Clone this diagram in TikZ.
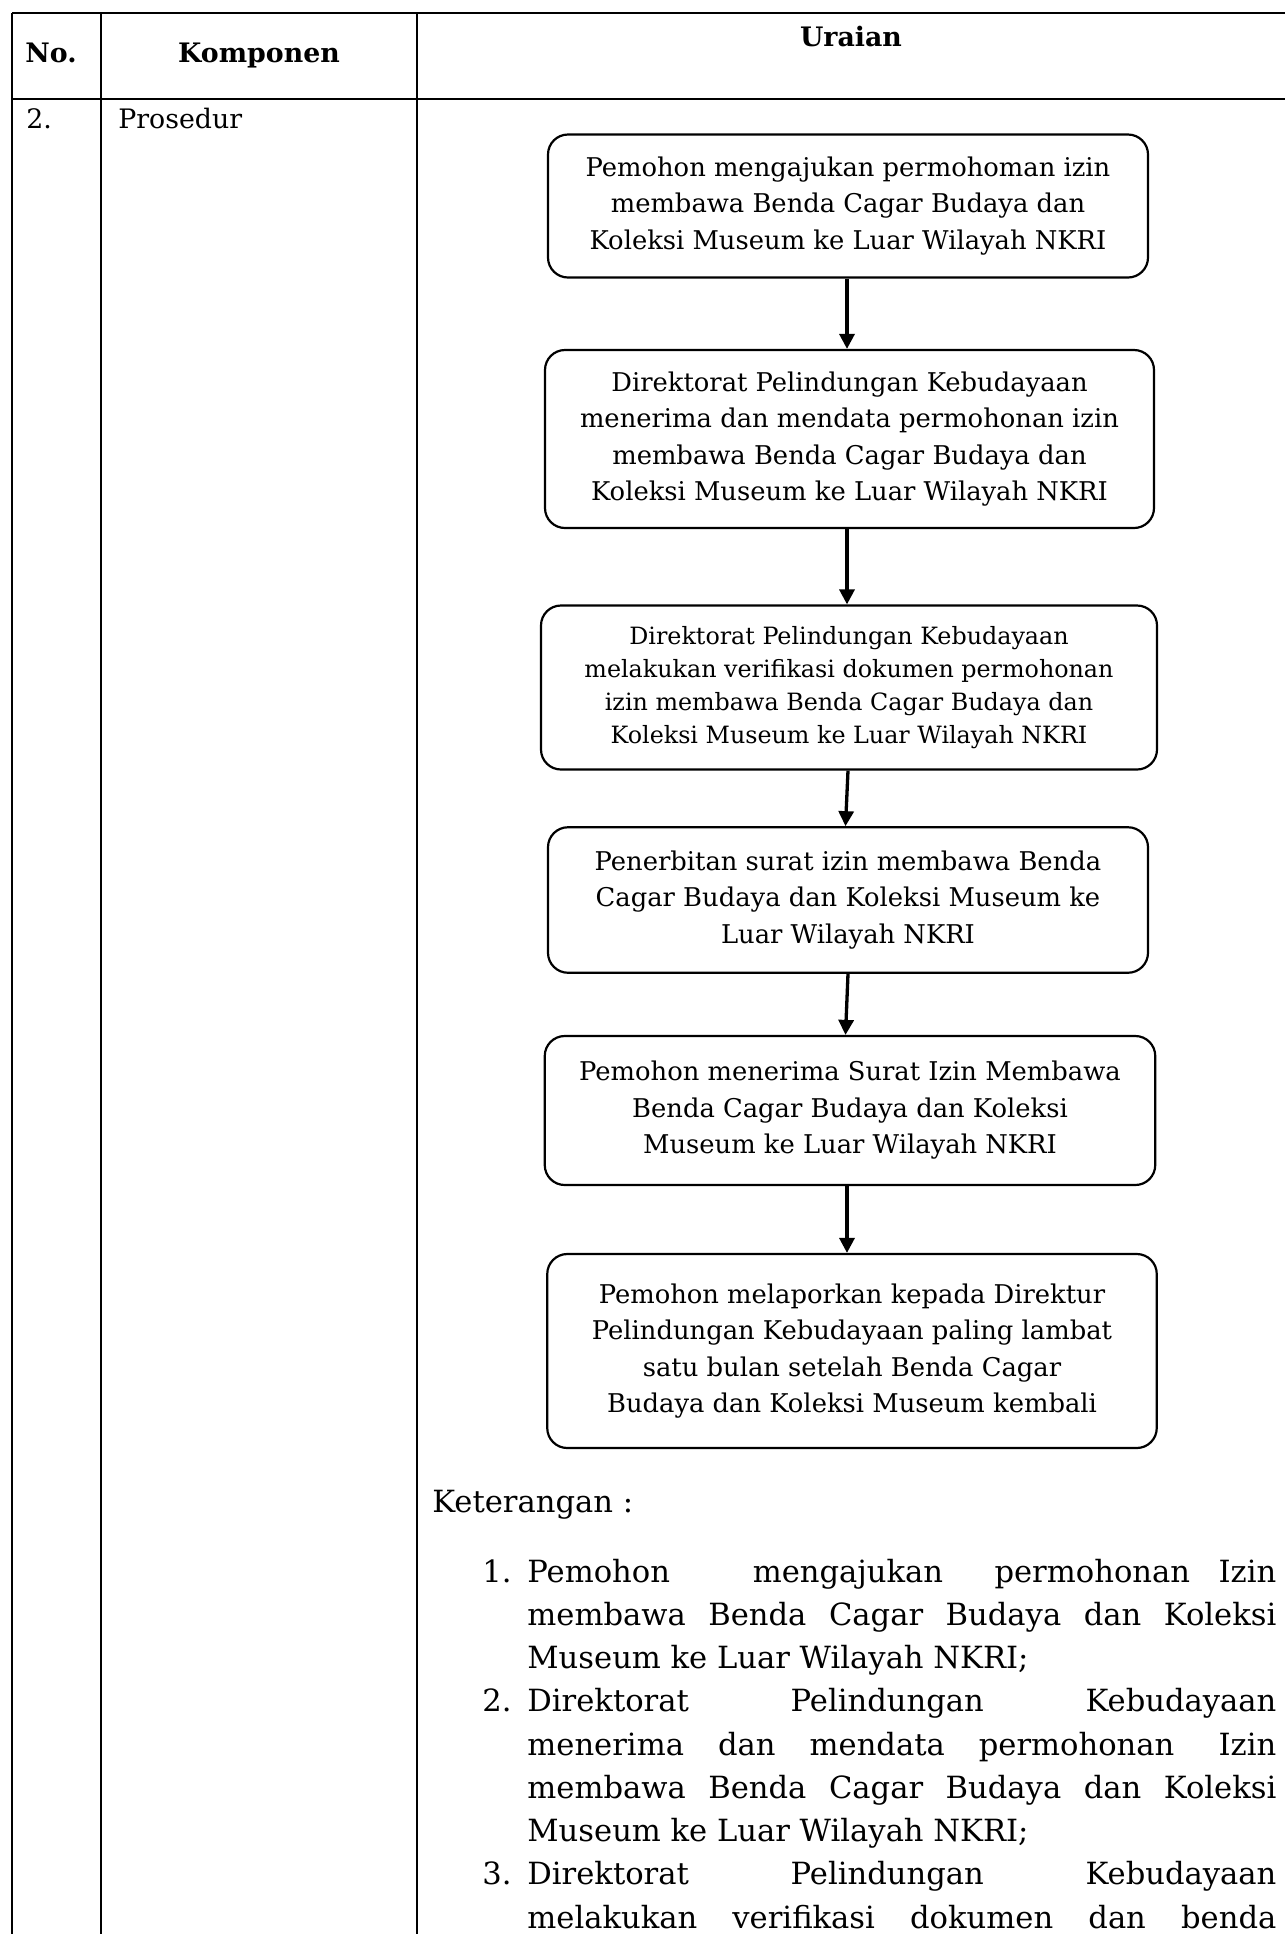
\documentclass[tikz,border=0pt]{standalone}
\usepackage{fontspec}
\setmainfont{DejaVu Serif}
\usetikzlibrary{arrows.meta}
\begin{document}
\begin{tikzpicture}[x=0.5pt,y=-0.5pt,
  flowbox/.style={draw, line width=1.1pt, rounded corners=10pt, align=center, inner sep=0pt,
    font={\fontsize{12.9}{18.25}\selectfont}},
  smallbox/.style={flowbox, font={\fontsize{11.9}{16.5}\selectfont}},
  flowarrow/.style={line width=1.65pt, -{Triangle[length=7.5pt,width=7.5pt]}},
  tableline/.style={line width=1pt},
  headtext/.style={font={\fontsize{13.4}{15}\selectfont\bfseries}, inner sep=0pt, anchor=base},
  celltext/.style={font={\fontsize{13.4}{15}\selectfont}, inner sep=0pt, anchor=base west},
  listtext/.style={font={\fontsize{15.3}{21.6}\selectfont}, inner sep=0pt, anchor=base west}
]
\useasboundingbox (0,0) rectangle (1285,1934);
% table grid
\coordinate (tl) at (12,13);
\coordinate (tr) at (1285,13);
\coordinate (hl) at (12,99);
\coordinate (hr) at (1285,99);
\coordinate (c0t) at (12,13);
\coordinate (c0b) at (12,1934);
\coordinate (c1t) at (101,13);
\coordinate (c1b) at (101,1934);
\coordinate (c2t) at (417,13);
\coordinate (c2b) at (417,1934);
\draw[tableline] (tl) -- (tr);
\draw[tableline] (hl) -- (hr);
\draw[tableline] (c0t) -- (c0b);
\draw[tableline] (c1t) -- (c1b);
\draw[tableline] (c2t) -- (c2b);
% headers
\node[headtext] (hno) at (51,62) {No.};
\node[headtext] (hkomp) at (259,62) {Komponen};
\node[headtext] (hurai) at (851,46) {Uraian};
\node[celltext] (no2) at (26,128.5) {2.};
\node[celltext] (pros) at (118,128.5) {Prosedur};
% flow boxes
\node[flowbox, minimum width=300pt, minimum height=71.5pt] (b1) at (848,206)
  {Pemohon mengajukan permohoman izin\\membawa Benda Cagar Budaya dan\\Koleksi Museum ke Luar Wilayah NKRI};
\node[flowbox, minimum width=304.5pt, minimum height=89pt] (b2) at (849.5,439)
  {Direktorat Pelindungan Kebudayaan\\menerima dan mendata permohonan izin\\membawa Benda Cagar Budaya dan\\Koleksi Museum ke Luar Wilayah NKRI};
\node[smallbox, minimum width=308pt, minimum height=82pt] (b3) at (849,687.5)
  {Direktorat Pelindungan Kebudayaan\\melakukan verifikasi dokumen permohonan\\izin membawa Benda Cagar Budaya dan\\Koleksi Museum ke Luar Wilayah NKRI};
\node[flowbox, minimum width=300pt, minimum height=72.75pt] (b4) at (848,900)
  {Penerbitan surat izin membawa Benda\\Cagar Budaya dan Koleksi Museum ke\\Luar Wilayah NKRI};
\node[flowbox, minimum width=305.25pt, minimum height=74.5pt] (b5) at (850,1110.5)
  {Pemohon menerima Surat Izin Membawa\\Benda Cagar Budaya dan Koleksi\\Museum ke Luar Wilayah NKRI};
\node[flowbox, minimum width=304.75pt, minimum height=97pt] (b6) at (852,1351)
  {Pemohon melaporkan kepada Direktur\\Pelindungan Kebudayaan paling lambat\\satu bulan setelah Benda Cagar\\Budaya dan Koleksi Museum kembali};
% arrows
\coordinate (ax) at (847,0);
\coordinate (ax3) at (845.5,0);
\draw[flowarrow] (b1.south -| ax) -- (b2.north -| ax);
\draw[flowarrow] (b2.south -| ax) -- (b3.north -| ax);
\draw[flowarrow] (b3.south -| b4) -- (b4.north -| ax3);
\draw[flowarrow] (b4.south) -- (b5.north -| ax3);
\draw[flowarrow] (b5.south -| ax) -- (b6.north -| ax);
% keterangan
\node[listtext] (ket) at (432,1512) {Keterangan :};
\node[listtext] (n1) at (482,1582) {1.};
\node[listtext] (l1) at (527,1582) {\hbox to 374.5pt{Pemohon\hskip 0pt plus 2.9fill mengajukan\hskip 0pt plus 1.8fill permohonan\hskip 0pt plus 1fill Izin}};
\node[listtext] (l2) at (527,1625.3) {\hbox to 374.5pt{membawa\hfill Benda\hfill Cagar\hfill Budaya\hfill dan\hfill Koleksi}};
\node[listtext] (l3) at (527,1668.5) {Museum ke Luar Wilayah NKRI;};
\node[listtext] (n2) at (482,1711.8) {2.};
\node[listtext] (l4) at (527,1711.8) {\hbox to 374.5pt{Direktorat\hfill Pelindungan\hfill Kebudayaan}};
\node[listtext] (l5) at (527,1755) {\hbox to 374.5pt{menerima\hfill dan\hfill mendata\hfill permohonan\hskip 0pt plus 1.3fill Izin}};
\node[listtext] (l6) at (527,1798.3) {\hbox to 374.5pt{membawa\hfill Benda\hfill Cagar\hfill Budaya\hfill dan\hfill Koleksi}};
\node[listtext] (l7) at (527,1841.5) {Museum ke Luar Wilayah NKRI;};
\node[listtext] (n3) at (482,1884.8) {3.};
\node[listtext] (l8) at (527,1884.8) {\hbox to 374.5pt{Direktorat\hfill Pelindungan\hfill Kebudayaan}};
\node[listtext] (l9) at (527,1928) {\hbox to 374.5pt{melakukan\hfill verifikasi\hfill dokumen\hfill dan\hfill benda}};
\end{tikzpicture}
\end{document}
